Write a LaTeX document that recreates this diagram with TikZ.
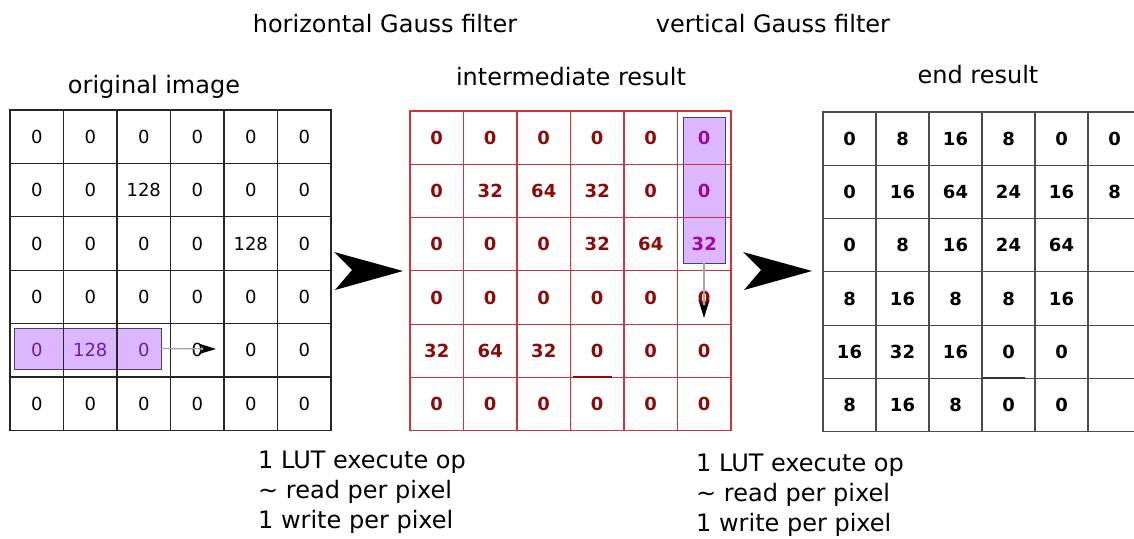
\documentclass[tikz,border=0pt]{standalone}
\usepackage{fontspec}
\setmainfont{DejaVu Sans}
\usetikzlibrary{arrows.meta}

\definecolor{gridred}{HTML}{D0343C}
\definecolor{numred}{HTML}{8B0A0A}
\definecolor{hlfill}{HTML}{DCB6FF}
\definecolor{hldraw}{HTML}{4B3F6B}
\definecolor{hlnum}{HTML}{6A1EA8}
\definecolor{hlnumb}{HTML}{9A0A9E}

\newcommand\hlA[1]{\textcolor{hlnum}{#1}}
\newcommand\hlB[1]{\textcolor{hlnumb}{#1}}

\tikzset{
  cell/.style={draw=black!85, line width=1.1pt, minimum width=53.5pt, minimum height=53.4pt,
    inner sep=0pt, font=\fontsize{18}{18}\selectfont},
  redcell/.style={cell, draw=gridred, text=numred, minimum height=53.3pt,
    font=\fontsize{18}{18}\selectfont\bfseries},
  endcell/.style={cell, draw=black!70, minimum width=53pt, minimum height=53.3pt,
    font=\fontsize{18}{18}\selectfont\bfseries},
  window/.style={draw=hldraw, line width=0.9pt, fill=hlfill, inner sep=0pt},
  title/.style={font=\fontsize{24}{24}\selectfont},
  note/.style={font=\fontsize{24}{30}\selectfont, align=left, anchor=west, inner sep=0pt},
  probe/.style={gray!70, line width=1.3pt, -{Stealth[black, length=18pt, width=11pt]}},
}

\begin{document}
\begin{tikzpicture}[x={(1pt,0pt)}, y={(0pt,-1pt)}]
\useasboundingbox (0,0) rectangle (1134,538);
\clip (0,0) rectangle (1134,538);

\node[title] (t-hor) at (385,24) {horizontal Gauss filter};
\node[title] (t-ver) at (773,24) {vertical Gauss filter};
\node[title] (t-org) at (154,87) {original image};
\node[title] (t-mid) at (571,77) {intermediate result};
\node[title] (t-end) at (978,75) {end result};

\node[window, minimum width=147pt, minimum height=41pt] (win1) at (87.5,348.5) {};
\node[window, minimum width=42pt, minimum height=146pt] (win2) at (704,190) {};

\foreach \row [count=\r] in {{0,0,0,0,0,0},{0,0,128,0,0,0},{0,0,0,0,128,0},
    {0,0,0,0,0,0},{\hlA{0},\hlA{128},\hlA{0},0,0,0},{0,0,0,0,0,0}}
  \foreach \v [count=\c] in \row
    \node[cell] (a-\r-\c) at ({10+53.5*(\c-0.5)},{110+53.4*(\r-0.5)}) {\v};

\foreach \row [count=\r] in {{0,0,0,0,0,\hlB{0}},{0,32,64,32,0,\hlB{0}},{0,0,0,32,64,\hlB{32}},
    {0,0,0,0,0,0},{32,64,32,0,0,0},{0,0,0,0,0,0}}
  \foreach \v [count=\c] in \row
    \node[redcell] (b-\r-\c) at ({410+53.5*(\c-0.5)},{111+53.3*(\r-0.5)}) {\v};

\foreach \row [count=\r] in {{0,8,16,8,0,0},{0,16,64,24,16,8},{0,8,16,24,64,{}},
    {8,16,8,8,16,{}},{16,32,16,0,0,{}},{8,16,8,0,0,{}}}
  \foreach \v [count=\c] in \row
    \node[endcell] (c-\r-\c) at ({823+53*(\c-0.5)},{112+53.3*(\r-0.5)}) {\v};

\draw[numred, line width=2pt] ([xshift=3pt]b-6-4.north west) -- ([xshift=-13pt]b-6-4.north east);
\draw[black!80, line width=2pt] ([xshift=2pt]c-6-4.north west) -- ([xshift=-11pt]c-6-4.north east);

\coordinate (tip1) at (216,349);
\coordinate (tip2) at (704,318);
\draw[probe] (win1.east) -- (tip1);
\draw[probe] (win2.south) -- (tip2);

\fill (334,252) -- (403,271) -- (335,290) -- (352,270) -- cycle;
\fill (743,252) -- (812,271) -- (744,290) -- (761,270) -- cycle;

\node[note] (n-hor) at (258,492) {1 LUT execute op\\\textasciitilde{} read per pixel\\1 write per pixel};
\node[note] (n-ver) at (696,495) {1 LUT execute op\\\textasciitilde{} read per pixel\\1 write per pixel};
\end{tikzpicture}
\end{document}
